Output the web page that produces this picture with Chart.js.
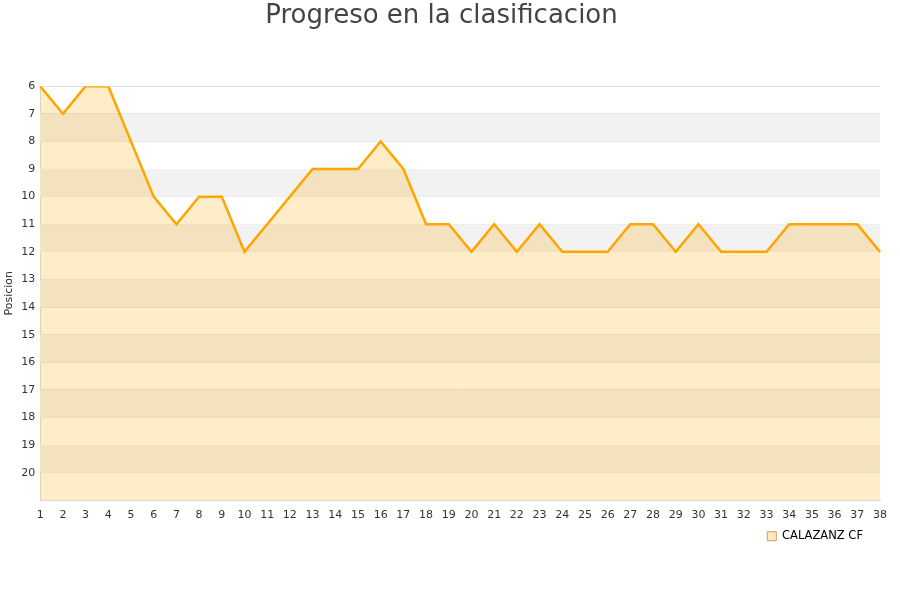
<!DOCTYPE html>
<html>
<head>
<meta charset="utf-8">
<script src="https://cdn.jsdelivr.net/npm/chart.js@4"></script>
<style>
  body { margin: 0; background: #fff; }
  #wrap { width: 900px; height: 600px; }
</style>
</head>
<body>
<div id="wrap"><canvas id="myChart"></canvas></div>
<script>
// jornadas y posiciones
const jornadas = [1,2,3,4,5,6,7,8,9,10,11,12,13,14,15,16,17,18,19,20,21,22,23,24,25,26,27,28,29,30,31,32,33,34,35,36,37,38];
const posiciones = [6,7,6,6,8,10,11,10,10,12,11,10,9,9,9,8,9,11,11,12,11,12,11,12,12,12,11,11,12,11,12,12,12,11,11,11,11,12];
const equipo = 'CALAZANZ CF';
const posMin = 6;
const posMax = 21;

// bandas grises alternas en el fondo
const bandas = {
    id: 'bandas',
    beforeDatasetsDraw(chart) {
        const { ctx, chartArea, scales } = chart;
        ctx.save();
        ctx.fillStyle = '#f2f2f2';
        for (let v = posMin + 1; v < posMax; v += 2) {
            const y1 = scales.y.getPixelForValue(v);
            const y2 = scales.y.getPixelForValue(v + 1);
            ctx.fillRect(chartArea.left, y1, chartArea.right - chartArea.left, y2 - y1);
        }
        ctx.restore();
    }
};

// correr la leyenda un poco a la izquierda
const moverLeyenda = {
    id: 'moverLeyenda',
    afterLayout(chart) {
        chart.legend.left -= 8;
        chart.legend.right -= 8;
    }
};

const ctx = document.getElementById('myChart');
new Chart(ctx, {
    type: 'line',
    data: {
        labels: jornadas,
        datasets: [{
            label: equipo,
            data: posiciones,
            borderColor: '#ffa500',
            borderWidth: 2.5,
            backgroundColor: 'rgba(255,165,0,0.21)',
            fill: 'start',
            pointRadius: 0,
            tension: 0
        }]
    },
    options: {
        responsive: true,
        maintainAspectRatio: false,
        animation: false,
        layout: { padding: { left: 3, right: 20, top: 1, bottom: 48 } },
        plugins: {
            title: {
                display: true,
                text: 'Progreso en la clasificacion',
                color: '#444',
                font: { family: 'DejaVu Sans', size: 26, weight: 'normal' },
                padding: { top: 0, bottom: 54 }
            },
            legend: {
                position: 'bottom',
                align: 'end',
                labels: {
                    boxWidth: 9,
                    boxHeight: 9,
                    color: '#000',
                    font: { family: 'DejaVu Sans', size: 11.5 },
                    padding: 9,
                    generateLabels(chart) {
                        return [{
                            text: equipo,
                            fillStyle: '#ffe9c4',
                            strokeStyle: '#c8a060',
                            lineWidth: 1,
                            datasetIndex: 0
                        }];
                    }
                }
            },
            tooltip: { enabled: false }
        },
        scales: {
            x: {
                offset: false,
                grid: { display: false },
                border: { color: '#d8d8d8' },
                ticks: {
                    color: '#333',
                    padding: 0,
                    font: { family: 'DejaVu Sans', size: 11 },
                    maxRotation: 0,
                    autoSkip: false
                }
            },
            y: {
                reverse: true,
                min: posMin,
                max: posMax,
                title: {
                    display: true,
                    text: 'Posicion',
                    color: '#333',
                    font: { family: 'DejaVu Sans', size: 11 },
                    padding: 0
                },
                grid: { color: '#e2e2e2', drawTicks: false },
                border: { color: '#d8d8d8' },
                ticks: {
                    stepSize: 1,
                    color: '#333',
                    padding: 5,
                    font: { family: 'DejaVu Sans', size: 11 },
                    callback: (v) => (v >= posMax ? '' : v)
                }
            }
        }
    },
    plugins: [bandas, moverLeyenda]
});
</script>
</body>
</html>
